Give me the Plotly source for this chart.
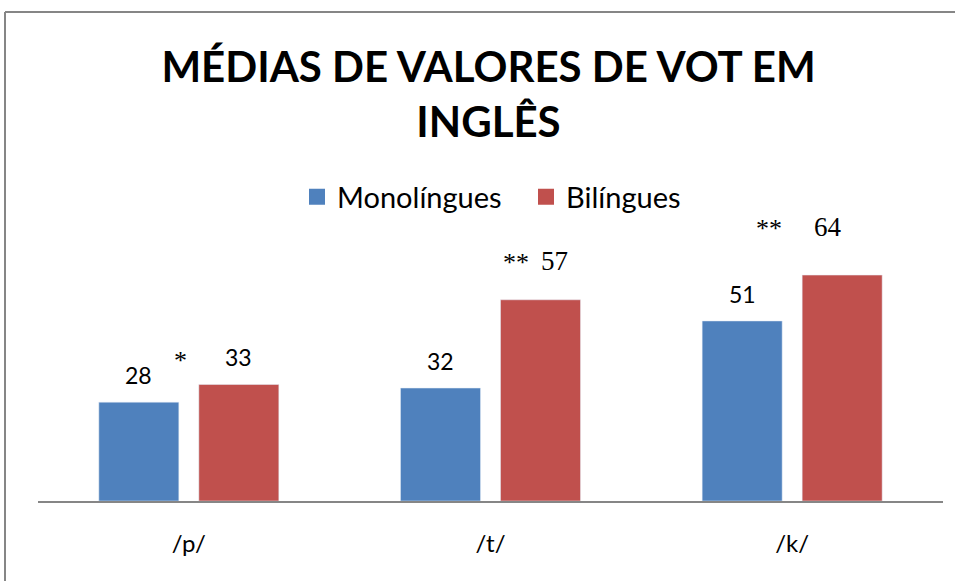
import plotly.graph_objects as go

categories = ["/p/", "/t/", "/k/"]
mono = [28, 32, 51]
bili = [33, 57, 64]
series_names = ["Monolíngues", "Bilíngues"]
sig_marks = ["*", "**", "**"]

BLUE = "#4F81BD"
RED = "#C0504D"
GRAY = "#868686"

W, H = 955, 581
L, R, T, B = 38, 12, 12, 80
plot_h = H - T - B
px_per_unit = 3.53
ymax = plot_h / px_per_unit

fig = go.Figure()
fig.add_bar(x=categories, y=mono, marker_color=BLUE, name=series_names[0], showlegend=False)
fig.add_bar(x=categories, y=bili, marker_color=RED, name=series_names[1], showlegend=False)
# legend proxies
fig.add_scatter(x=[None], y=[None], mode="markers", name=series_names[0],
                marker=dict(symbol="square", size=17, color=BLUE))
fig.add_scatter(x=[None], y=[None], mode="markers", name=series_names[1],
                marker=dict(symbol="square", size=17, color=RED))

# data labels
mono_font = [dict(family="Lato", size=23), dict(family="Lato", size=23), dict(family="Lato", size=23)]
bili_font = [dict(family="Lato", size=23), dict(family="Liberation Serif", size=27), dict(family="Liberation Serif", size=27)]
mono_shift = [27, 27, 27]
bili_shift = [28, 39, 48]
bili_x = [50, 64, 36]
for i, c in enumerate(categories):
    fig.add_annotation(x=c, y=mono[i], text=str(mono[i]), showarrow=False,
                       xshift=-50, yshift=mono_shift[i], yanchor="middle",
                       font=dict(color="black", **mono_font[i]))
    fig.add_annotation(x=c, y=bili[i], text=str(bili[i]), showarrow=False,
                       xshift=bili_x[i], yshift=bili_shift[i],
                       yanchor="middle", font=dict(color="black", **bili_font[i]))

sig_x = [-8, 25, -23]
sig_shift = [24, 37, 47]
for i, c in enumerate(categories):
    fig.add_annotation(x=c, y=bili[i], text=sig_marks[i], showarrow=False,
                       xshift=sig_x[i], yshift=sig_shift[i], yanchor="middle",
                       font=dict(family="Liberation Serif", size=26, color="black"))

# frame
fx = (5 - L) / (W - L - R)
fig.add_shape(type="line", xref="paper", yref="paper",
              x0=fx, x1=(W + 10 - L) / (W - L - R), y0=1, y1=1,
              line=dict(color=GRAY, width=2))
fig.add_shape(type="line", xref="paper", yref="paper",
              x0=fx, x1=fx, y0=1, y1=-0.5,
              line=dict(color=GRAY, width=2))

fig.update_layout(
    width=W, height=H,
    margin=dict(l=L, r=R, t=T, b=B, autoexpand=False),
    paper_bgcolor="white", plot_bgcolor="white",
    barmode="group", bargap=0.337, bargroupgap=0.2,
    title=dict(text="MÉDIAS DE VALORES DE VOT EM<br>INGLÊS", x=488.5 / W, xanchor="center",
               y=1 - 82 / H, yanchor="top", yref="container",
               font=dict(family="Lato", size=42, color="black", weight="bold")),
    legend=dict(orientation="h", x=526 / W, xanchor="center", y=1 - 197 / H, yanchor="middle",
                xref="container", yref="container",
                font=dict(family="Lato", size=29, color="black"),
                itemwidth=30, tracegroupgap=0, entrywidth=184),
    xaxis=dict(showline=True, linecolor=GRAY, linewidth=2, ticks="", showgrid=False,
               tickfont=dict(family="Lato", size=24, color="black"), ticklabelstandoff=20),
    yaxis=dict(range=[0, ymax], visible=False, showgrid=False),
    showlegend=True,
)

fig.write_html("out.html", config={"displayModeBar": False},
               post_script="document.body.style.margin='0';")
